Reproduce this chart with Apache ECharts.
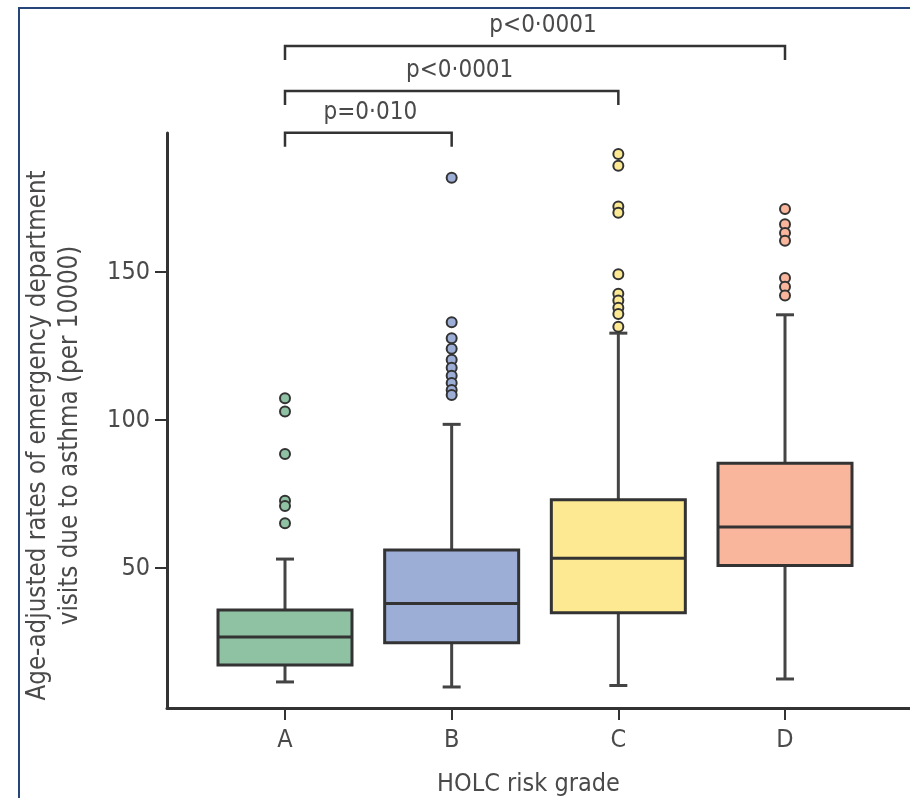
<!DOCTYPE html>
<html><head><meta charset="utf-8">
<script src="https://cdn.jsdelivr.net/npm/echarts@6/dist/echarts.min.js"></script>
<style>html,body{margin:0;padding:0;background:#fff}#c{width:910px;height:798px}</style>
</head><body><div id="c"></div>
<script>
// ---- data ----
const grades = ['A', 'B', 'C', 'D'];
// [lower whisker, Q1, median, Q3, upper whisker]
const statsA = [11.6, 17.3, 26.8, 35.9, 53.1];
const statsB = [9.9, 24.8, 38.1, 56.2, 98.6];
const statsC = [10.4, 35.0, 53.4, 73.1, 129.4];
const statsD = [12.6, 50.9, 63.9, 85.5, 135.6];
const outliersA = [107.4, 102.9, 88.6, 72.8, 71.0, 65.2];
const outliersB = [181.9, 133.1, 127.7, 124.1, 120.4, 117.7, 115.0, 112.6, 110.2, 108.5];
const outliersC = [189.9, 185.9, 172.2, 170.1, 149.3, 142.7, 140.4, 138.0, 135.9, 131.6];
const outliersD = [171.3, 166.2, 163.2, 160.6, 148.0, 145.1, 142.1];
const yTicks = [50, 100, 150];
const xTicks = [0, 1, 2, 3];
// significance brackets
const bracketFrom = [0, 0, 0];
const bracketTo = [1, 2, 3];
const bracketLevel = [197.1, 211.2, 226.4];
const bracketLabels = ['p=0·010', 'p<0·0001', 'p<0·0001'];

const fills = ['#8fc1a3', '#9cadd6', '#fde992', '#f9b69c'];
const FONT = '"Liberation Sans Narrow", "DejaVu Sans Condensed", "Liberation Sans", sans-serif';
const TXT = '#4a4a4a';

const allStats = [statsA, statsB, statsC, statsD];
const allOut = [outliersA, outliersB, outliersC, outliersD];

const chart = echarts.init(document.getElementById('c'), null, {renderer: 'canvas'});

const option = {
  backgroundColor: '#fff',
  animation: false,
  grid: {left: 167, right: 0, top: 133, bottom: 90, containLabel: false, outerBoundsMode: 'none'},
  xAxis: {
    type: 'value', min: -0.708, max: 3.75,
    splitLine: {show: false},
    axisLine: {show: true, onZero: false, lineStyle: {color: '#333', width: 3}},
    axisTick: {show: true, customValues: xTicks, length: 12, lineStyle: {color: '#333', width: 2}},
    axisLabel: {customValues: xTicks, formatter: v => grades[Math.round(v)] || '', color: TXT,
      fontFamily: FONT, fontSize: 25, margin: 20},
    name: 'HOLC risk grade', nameLocation: 'middle', nameGap: 64,
    nameTextStyle: {color: TXT, fontFamily: FONT, fontSize: 25, padding: [0, 20, 0, 0]}
  },
  yAxis: {
    type: 'value', min: 2.8, max: 197,
    splitLine: {show: false},
    axisLine: {show: true, onZero: false, lineStyle: {color: '#333', width: 3}},
    axisTick: {show: true, customValues: yTicks, length: 12, lineStyle: {color: '#333', width: 2}},
    axisLabel: {customValues: yTicks, color: TXT, fontFamily: FONT, fontSize: 25, margin: 17},
    name: 'Age-adjusted rates of emergency department\nvisits due to asthma (per 10000)',
    nameLocation: 'middle', nameRotate: 90, nameGap: 81,
    nameTextStyle: {color: TXT, fontFamily: FONT, fontSize: 25.7, lineHeight: 32, padding: [0, 30, 0, 0]}
  },
  series: [
    {
      type: 'custom',
      name: 'box',
      data: allStats.map((s, i) => [i].concat(s)),
      encode: {x: 0, y: [1, 2, 3, 4, 5]},
      z: 2,
      renderItem: function (params, api) {
        const x = api.value(0);
        const lo = api.coord([x, api.value(1)]);
        const q1 = api.coord([x, api.value(2)]);
        const md = api.coord([x, api.value(3)]);
        const q3 = api.coord([x, api.value(4)]);
        const hi = api.coord([x, api.value(5)]);
        const hw = 67, cw = 9;
        const ws = {stroke: '#444', lineWidth: 3};
        return {
          type: 'group',
          children: [
            {type: 'line', shape: {x1: hi[0], y1: hi[1], x2: q3[0], y2: q3[1]}, style: ws},
            {type: 'line', shape: {x1: lo[0], y1: lo[1], x2: q1[0], y2: q1[1]}, style: ws},
            {type: 'line', shape: {x1: hi[0] - cw, y1: hi[1], x2: hi[0] + cw, y2: hi[1]}, style: ws},
            {type: 'line', shape: {x1: lo[0] - cw, y1: lo[1], x2: lo[0] + cw, y2: lo[1]}, style: ws},
            {type: 'rect', shape: {x: q3[0] - hw, y: q3[1], width: 2 * hw, height: q1[1] - q3[1]},
              style: {fill: fills[params.dataIndex], stroke: '#333', lineWidth: 3}},
            {type: 'line', shape: {x1: md[0] - hw, y1: md[1], x2: md[0] + hw, y2: md[1]},
              style: {stroke: '#333', lineWidth: 3}}
          ]
        };
      }
    }
  ].concat(allOut.map((arr, i) => ({
    type: 'scatter',
    name: grades[i],
    data: arr.map(v => [i, v]),
    symbol: 'circle',
    symbolSize: 10,
    z: 3,
    itemStyle: {color: fills[i], borderColor: '#333', borderWidth: 2, opacity: 1}
  })))
};
chart.setOption(option);

// annotations placed through the axes' own scales
const g = [];
// frame lines
g.push({type: 'polyline', shape: {points: [[19, 798], [19, 8], [910, 8]]},
  style: {stroke: '#26467a', lineWidth: 2, fill: null}, silent: true});
for (let i = 0; i < bracketLabels.length; i++) {
  const p1 = chart.convertToPixel({xAxisIndex: 0, yAxisIndex: 0}, [bracketFrom[i], bracketLevel[i]]);
  const p2 = chart.convertToPixel({xAxisIndex: 0, yAxisIndex: 0}, [bracketTo[i], bracketLevel[i]]);
  const drop = 14;
  g.push({type: 'polyline', shape: {points: [[p1[0], p1[1] + drop], [p1[0], p1[1]], [p2[0], p2[1]], [p2[0], p2[1] + drop]]},
    style: {stroke: '#333', lineWidth: 2.5, fill: null}, silent: true});
  g.push({type: 'text', x: (p1[0] + p2[0]) / 2 + (i === 0 ? 2 : 8), y: p1[1] - 8,
    style: {text: bracketLabels[i], fill: TXT, font: '24px ' + FONT, align: 'center', verticalAlign: 'bottom'}, silent: true});
}
chart.setOption({graphic: g});
</script>
</body></html>
